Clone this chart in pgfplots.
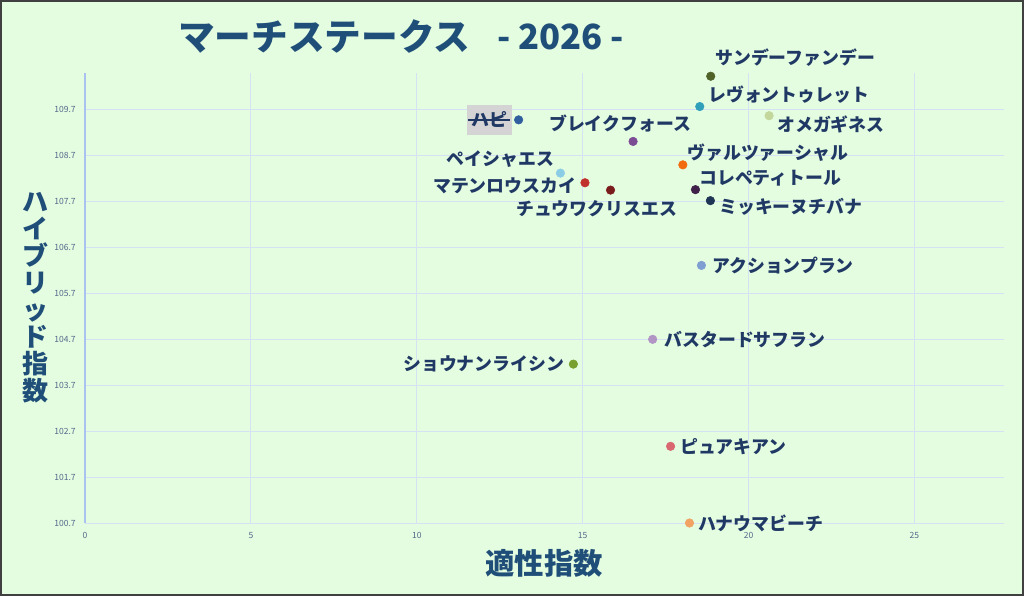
\documentclass[border=0pt]{standalone}
\usepackage{fontspec}
\setmainfont{Noto Sans CJK JP}
\usepackage{pgfplots}
\pgfplotsset{compat=1.18}

\definecolor{bgcol}{RGB}{228,253,224}
\definecolor{framecol}{RGB}{64,64,64}
\definecolor{gridcol}{RGB}{214,226,244}
\definecolor{ycol}{RGB}{170,194,240}
\definecolor{tickcol}{RGB}{84,104,140}
\definecolor{titlecol}{RGB}{31,78,121}
\definecolor{labelcol}{RGB}{32,56,100}
\definecolor{hapibox}{RGB}{212,212,212}
% marker colours
\definecolor{cHapi}{RGB}{47,95,158}
\definecolor{cSunday}{RGB}{79,98,40}
\definecolor{cLevon}{RGB}{47,159,186}
\definecolor{cOmega}{RGB}{195,214,155}
\definecolor{cBreak}{RGB}{123,75,148}
\definecolor{cPeisha}{RGB}{140,205,230}
\definecolor{cMaten}{RGB}{192,48,44}
\definecolor{cChuwa}{RGB}{123,28,28}
\definecolor{cWaltz}{RGB}{242,107,15}
\definecolor{cKorepe}{RGB}{63,33,73}
\definecolor{cMikki}{RGB}{31,53,86}
\definecolor{cAction}{RGB}{127,159,211}
\definecolor{cBastard}{RGB}{176,149,197}
\definecolor{cShonan}{RGB}{119,160,46}
\definecolor{cPure}{RGB}{217,103,111}
\definecolor{cHanauma}{RGB}{242,162,99}

\begin{document}
\begin{tikzpicture}[
    lbl/.style={text=labelcol, inner sep=0pt, font=\fontsize{13.4}{15}\selectfont\bfseries},
    dot/.style={only marks, mark=*, mark size=3.2pt, mark options={draw=#1, fill=#1}},
]
\fill[bgcol] (0,0) rectangle (768pt,447pt);
\path[use as bounding box] (0,0) rectangle (768pt,447pt);

\begin{axis}[
    at={(63.75pt,54.75pt)}, anchor=south west,
    scale only axis,
    width=689.25pt, height=337.5pt,
    xmin=0, xmax=27.7,
    ymin=100.7, ymax=110.5,
    clip=false,
    axis x line=bottom, axis y line=left,
    axis line style={-},
    x axis line style={gridcol, line width=0.6pt},
    y axis line style={ycol, line width=0.8pt},
    major tick length=0pt,
    grid=major,
    major grid style={gridcol, line width=0.6pt},
    xtick={0,5,10,15,20,25},
    ytick={100.7,101.7,102.7,103.7,104.7,105.7,106.7,107.7,108.7,109.7},
    yticklabel style={/pgf/number format/.cd, fixed, fixed zerofill, precision=1,
        /tikz/.cd, font=\fontsize{6.4}{7}\selectfont, text=tickcol, inner sep=0pt, xshift=-6.75pt},
    xticklabel style={font=\fontsize{6.4}{7}\selectfont, text=tickcol, inner sep=0pt, yshift=-6.5pt},
    /pgf/number format/assume math mode=true,
]
\addplot[dot=cHapi]    coordinates {(13.07,109.48)};
\addplot[dot=cSunday]  coordinates {(18.86,110.43)};
\addplot[dot=cLevon]   coordinates {(18.53,109.77)};
\addplot[dot=cOmega]   coordinates {(20.62,109.57)};
\addplot[dot=cBreak]   coordinates {(16.52,109.01)};
\addplot[dot=cPeisha]  coordinates {(14.33,108.32)};
\addplot[dot=cMaten]   coordinates {(15.07,108.11)};
\addplot[dot=cChuwa]   coordinates {(15.84,107.95)};
\addplot[dot=cWaltz]   coordinates {(18.02,108.50)};
\addplot[dot=cKorepe]  coordinates {(18.40,107.96)};
\addplot[dot=cMikki]   coordinates {(18.85,107.72)};
\addplot[dot=cAction]  coordinates {(18.58,106.31)};
\addplot[dot=cBastard] coordinates {(17.11,104.70)};
\addplot[dot=cShonan]  coordinates {(14.72,104.16)};
\addplot[dot=cPure]    coordinates {(17.65,102.37)};
\addplot[dot=cHanauma] coordinates {(18.22,100.70)};

% labels
\node[fill=hapibox, text=labelcol, inner xsep=3.5pt, inner ysep=0pt, minimum height=22.5pt,
      font=\fontsize{13.4}{15}\selectfont\bfseries] (hapi) at (axis cs:12.19,109.48) {ハピ};
\draw[labelcol, line width=1pt] ([xshift=1pt]hapi.west) -- ([xshift=-2pt]hapi.east);
\node[lbl, anchor=west] at (axis cs:18.99,110.83) {サンデーファンデー};
\node[lbl, anchor=west] at (axis cs:18.78,110.03) {レヴォントゥレット};
\node[lbl, anchor=west] at (axis cs:20.86,109.37) {オメガギネス};
\node[lbl, anchor=east] at (axis cs:18.27,109.40) {ブレイクフォース};
\node[lbl, anchor=east] at (axis cs:14.15,108.63) {ペイシャエス};
\node[lbl, anchor=east] at (axis cs:14.81,108.05) {マテンロウスカイ};
\node[lbl, anchor=east] at (axis cs:17.85,107.55) {チュウワクリスエス};
\node[lbl, anchor=west] at (axis cs:18.15,108.77) {ヴァルツァーシャル};
\node[lbl, anchor=west] at (axis cs:18.51,108.20) {コレペティトール};
\node[lbl, anchor=west] at (axis cs:19.11,107.59) {ミッキーヌチバナ};
\node[lbl, anchor=west] at (axis cs:18.90,106.31) {アクションプラン};
\node[lbl, anchor=west] at (axis cs:17.46,104.70) {バスタードサフラン};
\node[lbl, anchor=east] at (axis cs:14.45,104.16) {ショウナンライシン};
\node[lbl, anchor=west] at (axis cs:17.94,102.37) {ピュアキアン};
\node[lbl, anchor=west] at (axis cs:18.47,100.70) {ハナウマビーチ};
\end{axis}

\begin{scope}[x=0.75pt, y=-0.75pt, shift={(0pt,447pt)}]
  \node[anchor=west, inner sep=0pt, text=titlecol, font=\fontsize{27.5}{30}\selectfont\bfseries]
    at (178,37) {マーチステークス};
  \node[anchor=west, inner sep=0pt, text=titlecol, font=\fontsize{26}{30}\selectfont\bfseries]
    at (497,37) {- 2026 -};
  \node[inner sep=0pt, text=titlecol, font=\fontsize{22}{24}\selectfont\bfseries]
    at (544,563) {適性指数};
  \node[inner sep=0pt, align=center, text=titlecol, font=\fontsize{19.5}{20.25}\selectfont\bfseries]
    at (35,298) {ハ\\イ\\ブ\\リ\\ッ\\ド\\指\\数};
  \draw[framecol, line width=1.5pt] (1,1) rectangle (1023,595);
\end{scope}
\end{tikzpicture}
\end{document}
